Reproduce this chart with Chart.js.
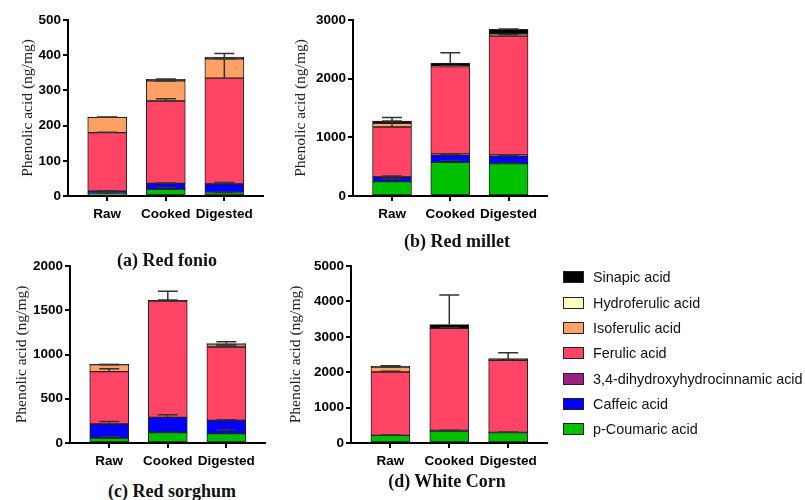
<!DOCTYPE html>
<html>
<head>
<meta charset="utf-8">
<script src="https://cdn.jsdelivr.net/npm/chart.js@4.4.1/dist/chart.umd.min.js"></script>
<style>
    body { margin: 0; background: #fff; }
    #wrap { position: relative; width: 805px; height: 500px; overflow: hidden; }
    canvas { position: absolute; }
    .ptitle { position: absolute; font: bold 18px "Liberation Serif", serif; color: #111; white-space: nowrap; transform: translate(-50%, -50%); }
    #legend { position: absolute; left: 563px; top: 0; font: 14.4px "Liberation Sans", Arial, sans-serif; color: #111; }
    .row { position: absolute; left: 0; white-space: nowrap; }
    .sw { position: absolute; left: 0; top: -6px; width: 19px; height: 10px; border: 1px solid #222; }
    .lab { position: absolute; left: 30px; top: -9px; line-height: 18px; }
</style>
</head>
<body>
<div id="wrap">
    <canvas id="c-fonio" width="280" height="225" style="left:0px; top:0px"></canvas>
    <canvas id="c-millet" width="280" height="225" style="left:285px; top:0px"></canvas>
    <canvas id="c-sorghum" width="280" height="226" style="left:0px; top:246px"></canvas>
    <canvas id="c-corn" width="280" height="226" style="left:285px; top:246px"></canvas>
    <div class="ptitle" style="left:167px; top:260px">(a) Red fonio</div>
    <div class="ptitle" style="left:457px; top:241px">(b) Red millet</div>
    <div class="ptitle" style="left:172px; top:491px">(c) Red sorghum</div>
    <div class="ptitle" style="left:447px; top:481px">(d) White Corn</div>
    <div id="legend"></div>
</div>
<script>
// カテゴリと系列 (下から積み上げ順)
const categories = ['Raw', 'Cooked', 'Digested'];
const seriesNames = ['p-Coumaric acid', 'Caffeic acid', '3,4-dihydroxyhydrocinnamic acid',
    'Ferulic acid', 'Isoferulic acid', 'Hydroferulic acid', 'Sinapic acid'];
const seriesColors = ['#00c000', '#0000ff', '#9e1f80', '#ff4466', '#ffa066', '#ffffc0', '#000000'];

// 各パネルの値 (ng/mg) 行 = 系列, 列 = Raw / Cooked / Digested
const fonioValues = [
    [7.6, 19, 10],
    [6.4, 17, 24],
    [0, 0, 0],
    [166, 234, 301],
    [43.5, 57, 55],
    [0, 0, 0],
    [0.5, 4.5, 5]
];
const fonioErrors = [
    [1, 5, 1],
    [1, 1, 4],
    [null, null, null],
    [1, 6, 57],
    [0.5, 0, 0],
    [null, null, null],
    [0, 1, 10]
];

const milletValues = [
    [244, 574, 551],
    [80, 125, 131],
    [6, 17, 17],
    [846, 1489, 2028],
    [63, 10, 34],
    [0, 0, 0],
    [39, 52, 80]
];
const milletErrors = [
    [50, 30, 10],
    [15, 10, 10],
    [null, null, null],
    [160, 20, 20],
    [null, null, null],
    [null, null, null],
    [0, 176, 5]
];

const sorghumValues = [
    [56, 117, 106],
    [159, 173, 150],
    [0, 0, 0],
    [591, 1315, 829],
    [79, 0, 26],
    [0, 0, 4],
    [3, 7, 7]
];
const sorghumErrors = [
    [16, 5, 45],
    [27, 30, 6],
    [null, null, null],
    [34, 10, 10],
    [0, null, 0],
    [null, null, null],
    [0, 102, 23]
];

const cornValues = [
    [217, 339, 294],
    [0, 11, 0],
    [0, 5, 5],
    [1789, 2885, 2036],
    [141, 0, 0],
    [0, 0, 0],
    [28, 105, 47]
];
const cornErrors = [
    [10, 20, 20],
    [null, null, null],
    [null, null, null],
    [20, 20, 20],
    [0, null, null],
    [null, null, null],
    [10, 836, 170]
];

const sansFont = '"Liberation Sans", Arial, sans-serif';
const serifFont = '"Liberation Serif", "Times New Roman", serif';

// エラーバー描画 (上方向のみ)
const errorBarPlugin = {
    id: 'errorBars',
    afterDatasetsDraw(chart) {
        const ctx = chart.ctx;
        const yScale = chart.scales.y;
        ctx.save();
        ctx.strokeStyle = '#333';
        ctx.lineWidth = 1.5;
        chart.data.datasets.forEach((ds, di) => {
            if (!ds.errors) return;
            const meta = chart.getDatasetMeta(di);
            meta.data.forEach((bar, i) => {
                const err = ds.errors[i];
                if (err === null || err === undefined) return;
                const h = yScale.getPixelForValue(0) - yScale.getPixelForValue(err);
                const yEnd = bar.y - h;
                ctx.beginPath();
                ctx.moveTo(bar.x, bar.y);
                ctx.lineTo(bar.x, yEnd);
                ctx.moveTo(bar.x - 10, yEnd);
                ctx.lineTo(bar.x + 10, yEnd);
                ctx.stroke();
            });
        });
        ctx.restore();
    }
};

function makePanel(id, values, errors, p) {
    const datasets = seriesNames.map((name, k) => ({
        label: name,
        data: values[k].map((v, i) => ({ x: i + 1, y: v })),
        errors: errors[k],
        backgroundColor: seriesColors[k],
        borderColor: '#222',
        borderWidth: 1,
        borderSkipped: false,
        barThickness: 39
    }));

    new Chart(document.getElementById(id), {
        type: 'bar',
        data: { datasets },
        options: {
            responsive: false,
            animation: false,
            devicePixelRatio: 1,
            layout: { padding: { left: 0, top: 20, right: p.padRight, bottom: 0 } },
            plugins: { legend: { display: false }, tooltip: { enabled: false } },
            scales: {
                x: {
                    type: 'linear',
                    stacked: true,
                    offset: false,
                    min: 0.33,
                    max: 3.66,
                    afterBuildTicks: s => { s.ticks = categories.map((c, i) => ({ value: i + 1 })); },
                    afterFit: s => { s.height = 29; s.paddingLeft = 0; s.paddingRight = 0; },
                    ticks: {
                        autoSkip: false, maxRotation: 0, padding: 5, color: '#000',
                        font: { family: sansFont, size: 13.5, weight: 'bold' },
                        callback: v => categories[v - 1]
                    },
                    grid: { offset: false, drawOnChartArea: false, tickLength: 5, lineWidth: 2, color: '#000' },
                    border: { color: '#000', width: 2 }
                },
                y: {
                    stacked: true,
                    min: 0,
                    max: p.yMax,
                    afterFit: s => { s.width = p.yWidth; s.paddingTop = 0; s.paddingBottom = 0; },
                    ticks: {
                        stepSize: p.step, padding: 2, color: '#000',
                        font: { family: sansFont, size: 13.5, weight: 'bold' },
                        callback: v => String(v)
                    },
                    grid: { drawOnChartArea: false, tickLength: 5, lineWidth: 2, color: '#000' },
                    border: { color: '#000', width: 2 },
                    title: {
                        display: true, text: 'Phenolic acid (ng/mg)', color: '#222',
                        font: { family: serifFont, size: 15.5 },
                        padding: { top: p.titlePad, bottom: 0 }
                    }
                }
            }
        },
        plugins: [errorBarPlugin]
    });
}

makePanel('c-fonio', fonioValues, fonioErrors, { yMax: 500, step: 100, yWidth: 68, padRight: 17, titlePad: 18.7 });
makePanel('c-millet', milletValues, milletErrors, { yMax: 3000, step: 1000, yWidth: 68, padRight: 18, titlePad: 6.7 });
makePanel('c-sorghum', sorghumValues, sorghumErrors, { yMax: 2000, step: 500, yWidth: 70, padRight: 15, titlePad: 12.7 });
makePanel('c-corn', cornValues, cornErrors, { yMax: 5000, step: 1000, yWidth: 66, padRight: 18, titlePad: 2 });

// 凡例 (上から Sinapic → p-Coumaric)
const legend = document.getElementById('legend');
seriesNames.slice().reverse().forEach((name, i) => {
    const k = seriesNames.length - 1 - i;
    const row = document.createElement('div');
    row.className = 'row';
    row.style.top = (277.3 + i * 25.3) + 'px';
    const sw = document.createElement('div');
    sw.className = 'sw';
    sw.style.background = seriesColors[k];
    const lab = document.createElement('div');
    lab.className = 'lab';
    lab.textContent = name;
    row.appendChild(sw);
    row.appendChild(lab);
    legend.appendChild(row);
});
</script>
</body>
</html>
